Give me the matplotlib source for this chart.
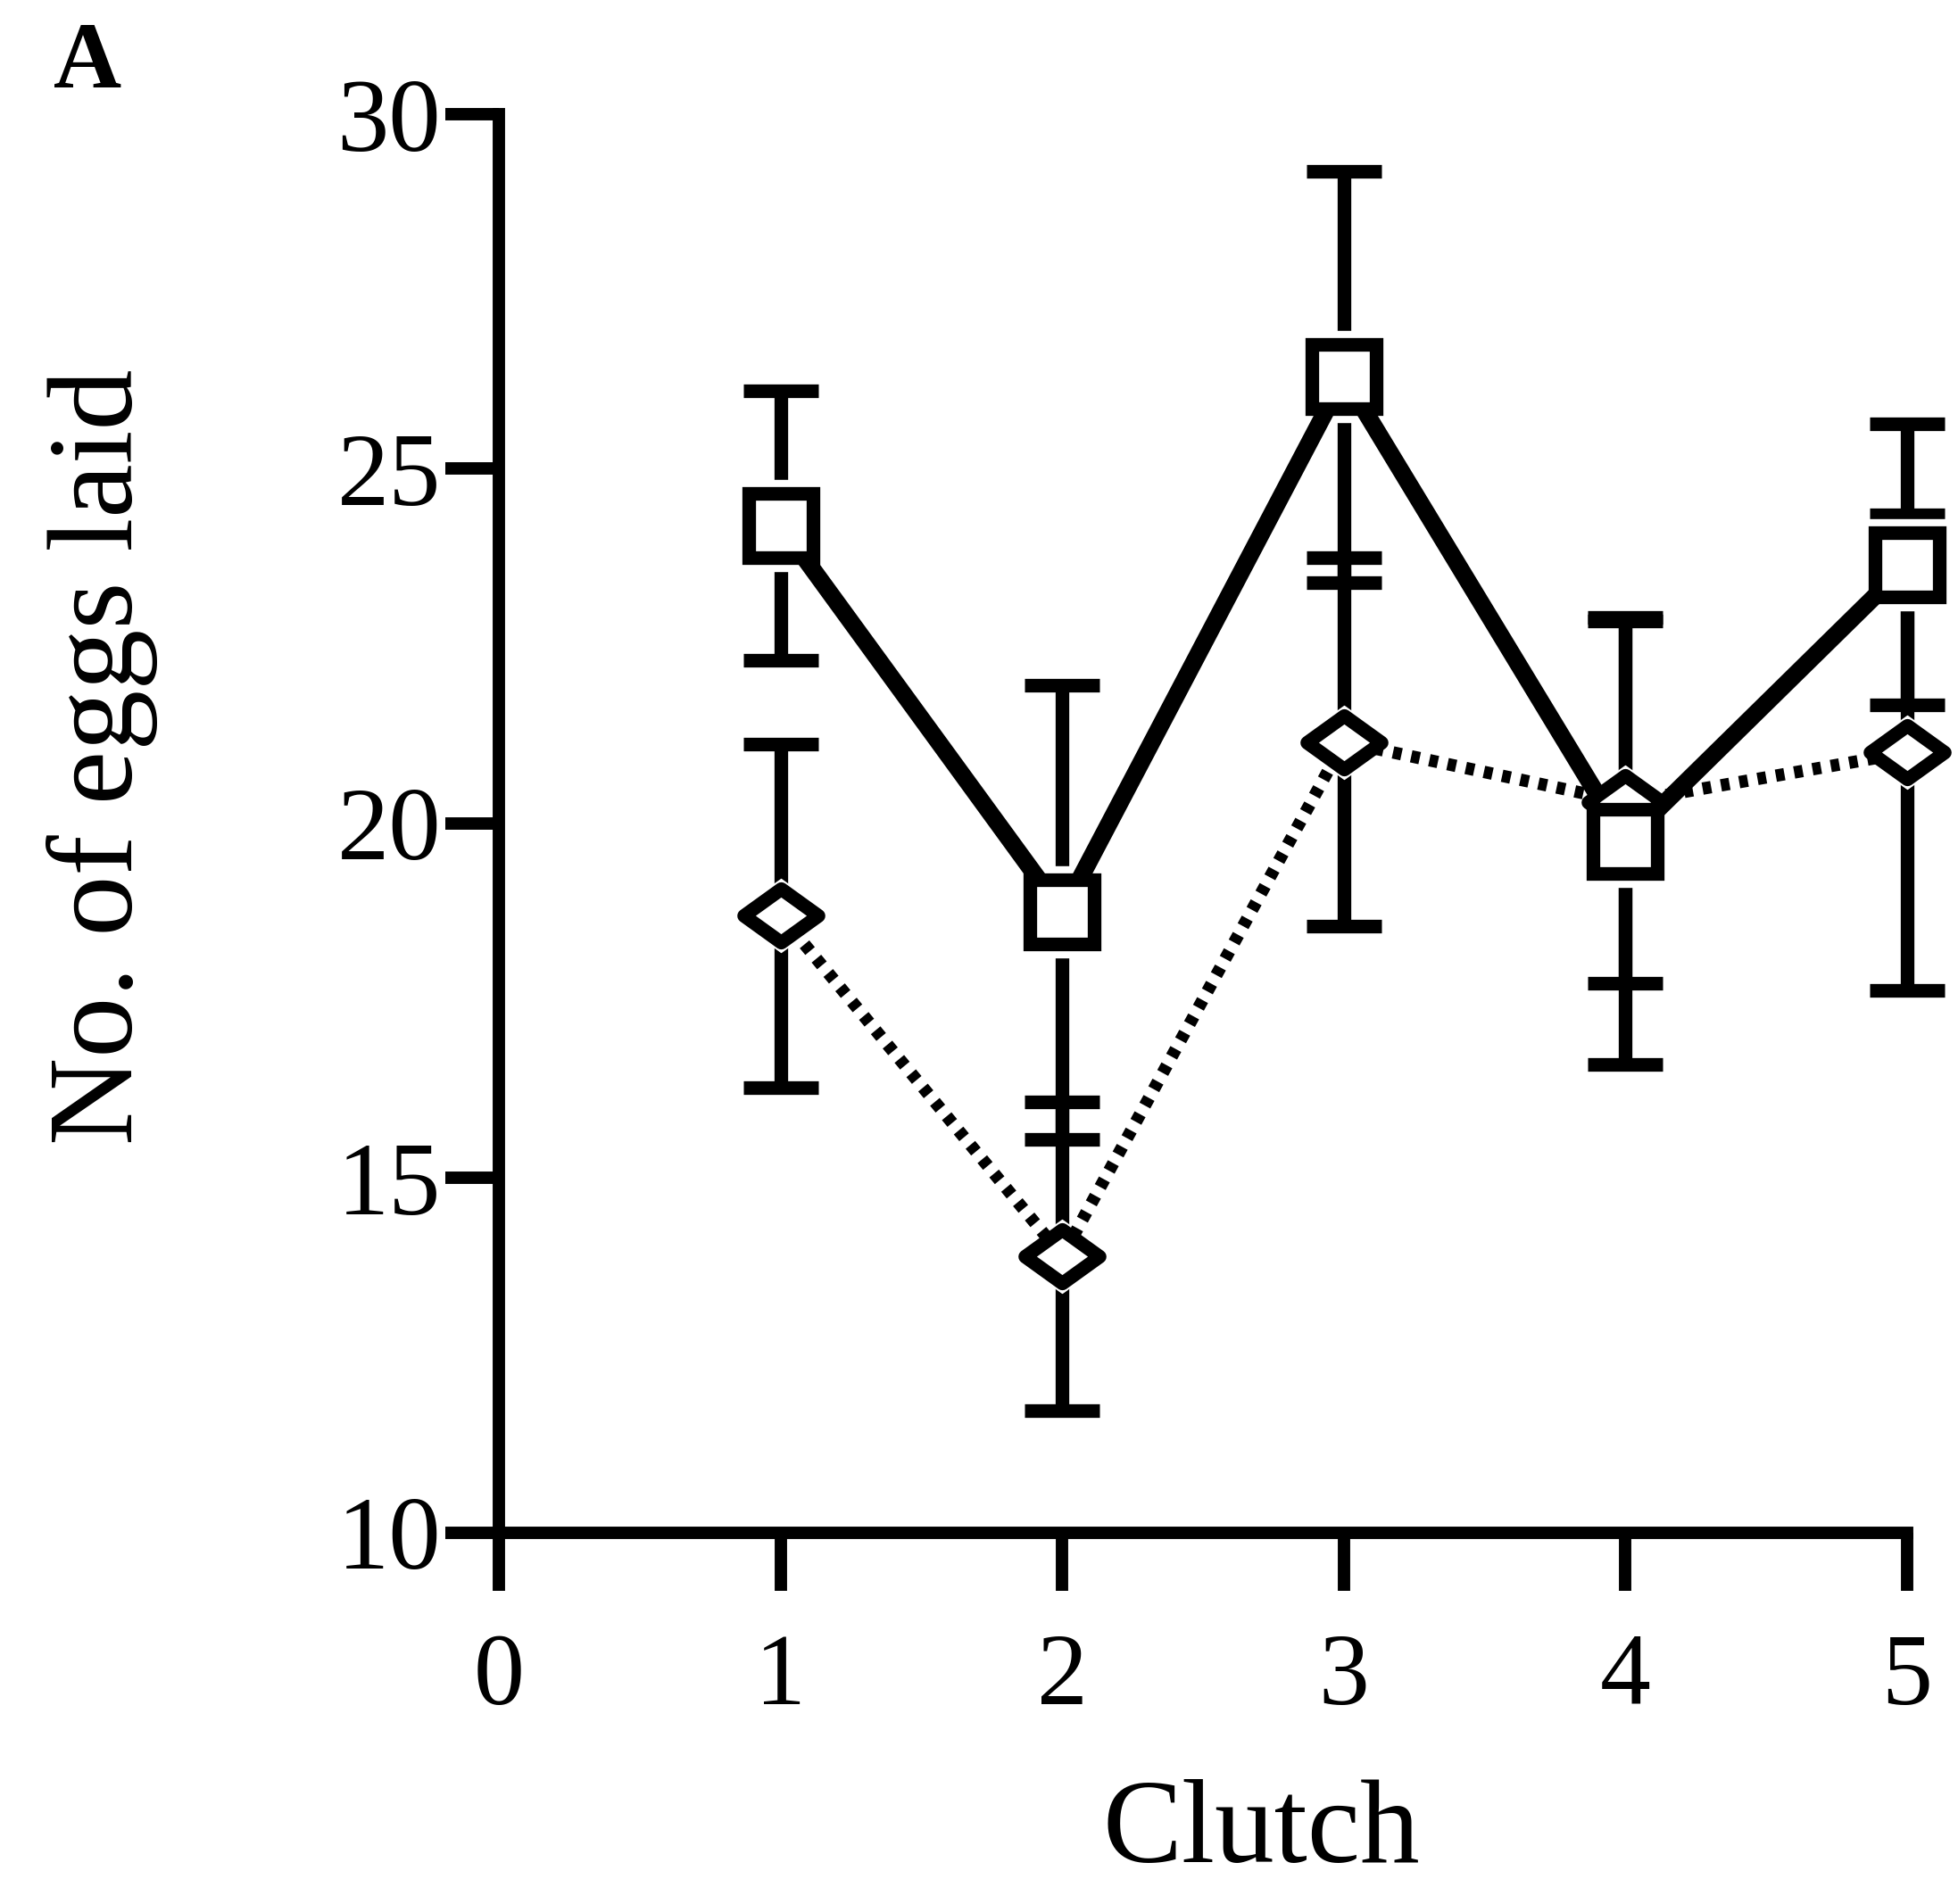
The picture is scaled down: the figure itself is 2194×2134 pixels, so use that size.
import numpy as np
import matplotlib
matplotlib.use("Agg")
import matplotlib.pyplot as plt
from matplotlib.path import Path

# Data (mean +/- error)
clutch = [1, 2, 3, 4, 5]
square_mean = [24.2, 18.75, 26.3, 19.75, 23.65]
square_err = [1.9, 3.2, 2.9, 3.15, 1.98]
diamond_mean = [18.7, 13.9, 21.15, 20.3, 21.0]
diamond_err = [2.42, 2.18, 2.6, 2.55, 3.35]

plt.rcParams['font.family'] = ['Liberation Serif', 'DejaVu Serif']

# flattened diamond marker
flat_diamond = Path([(-1, 0), (0, 0.72), (1, 0), (0, -0.72), (-1, 0)],
                    [Path.MOVETO, Path.LINETO, Path.LINETO, Path.LINETO, Path.CLOSEPOLY])

fig = plt.figure(figsize=(21.94, 21.34), dpi=100)
ax = fig.add_axes([0.255, 0.195, 0.719, 0.745])

lw_err = 11
cap = 30

# error bars (drawn first, markers get a white halo so bars stop short of them)
for m, e in [(square_mean, square_err), (diamond_mean, diamond_err)]:
    eb = ax.errorbar(clutch, m, yerr=e, fmt='none', ecolor='black',
                     elinewidth=lw_err, capsize=cap, capthick=lw_err, zorder=1)
    for art in eb.get_children():
        art.set_clip_on(False)

# white halos
ax.plot(clutch, square_mean, ls='none', marker='s', markersize=74,
        markerfacecolor='white', markeredgecolor='white', zorder=2, clip_on=False)
ax.plot(clutch, diamond_mean, ls='none', marker=flat_diamond, markersize=82,
        markerfacecolor='white', markeredgecolor='white', zorder=2, clip_on=False)

# connecting lines
ax.plot(clutch, diamond_mean, ls=(0, (0.7, 0.8)), color='black', linewidth=10,
        zorder=3, clip_on=False)
ax.plot(clutch, square_mean, ls='-', color='black', linewidth=14,
        zorder=3, clip_on=False)

# markers
ax.plot(clutch, diamond_mean, ls='none', marker=flat_diamond, markersize=60,
        markerfacecolor='white', markeredgecolor='black', markeredgewidth=11,
        zorder=4, clip_on=False)
ax.plot(clutch, square_mean, ls='none', marker='s', markersize=52,
        markerfacecolor='white', markeredgecolor='black', markeredgewidth=11,
        zorder=5, clip_on=False)

ax.set_xlim(0, 5)
ax.set_ylim(10, 30)
ax.set_xticks(range(0, 6))
ax.set_yticks([10, 15, 20, 25, 30])

for side in ['top', 'right']:
    ax.spines[side].set_visible(False)
for side in ['left', 'bottom']:
    ax.spines[side].set_linewidth(10)

ax.tick_params(axis='y', direction='out', length=43, width=10, labelsize=84, pad=4)
ax.tick_params(axis='x', direction='out', length=47, width=10, labelsize=82, pad=34)

ax.set_xlabel("Clutch", fontsize=96, va='center')
ax.set_ylabel("No. of eggs laid", fontsize=98, va='center')
ax.xaxis.set_label_coords(0.541, -0.212)
ax.yaxis.set_label_coords(-0.282, 0.547)

fig.text(0.0447, 0.966, "A", fontsize=76, fontweight='bold', ha='center', va='center')

fig.savefig("out.png", dpi=100)
